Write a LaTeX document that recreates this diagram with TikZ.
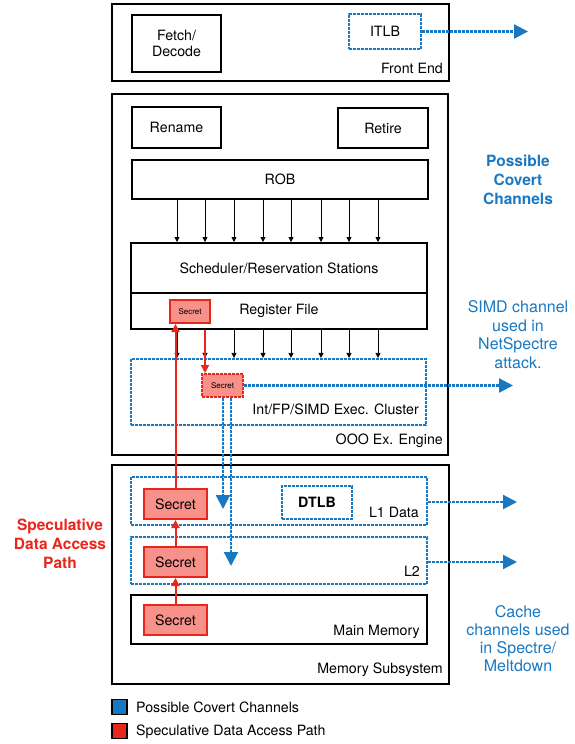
\documentclass[tikz,border=0pt]{standalone}
\usepackage{fontspec}
\setmainfont{TeX Gyre Heros}
\usetikzlibrary{arrows.meta}
\definecolor{cblue}{RGB}{24,120,194}
\definecolor{cred}{RGB}{232,38,28}
\definecolor{cpink}{RGB}{247,145,138}
\begin{document}
\begin{tikzpicture}[x=1pt,y=-1pt,
  every node/.style={inner sep=0pt, font=\fontsize{14.2}{16.5}\selectfont},
  sz/.style n args={2}{minimum width=#1pt,minimum height=#2pt},
  bx/.style={draw,line width=2pt},
  blu/.style={draw=cblue,line width=2.2pt,dash pattern=on 3pt off 1pt},
  sec/.style={draw=cred,fill=cpink,line width=2pt},
  secd/.style={draw=cred,fill=cpink,line width=2pt,dash pattern=on 3pt off 1pt},
  barrow/.style={draw=cblue,line width=2.2pt,dash pattern=on 3pt off 1pt,-{Triangle[length=14pt,width=14pt]}},
  karrow/.style={line width=0.8pt,-{Triangle[length=5pt,width=5pt]}},
  rarrow/.style={draw=cred,line width=2pt,-{Triangle[length=8pt,width=8pt]}},
  bignote/.style={font=\fontsize{16}{18.5}\selectfont,align=center,text=cblue}
]
\useasboundingbox (0,0) rectangle (575,744);

% Front end
\node[bx,sz={337}{77}] (fe) at (280.5,42.5) {};
\node[bx,sz={89}{57},align=center] (fd) at (176.5,43.5) {Fetch/\\Decode};
\node[blu,sz={72}{35}] (itlb) at (385,31.5) {ITLB};
\node[anchor=east] (felbl) at (443,68) {Front End};
\coordinate (itlbend) at (528,31.5);
\draw[barrow] (itlb.east) -- (itlbend);

% OOO engine
\node[bx,sz={336}{361}] (ooo) at (280,274.5) {};
\node[bx,sz={89}{41}] (ren) at (176.5,127.5) {Rename};
\node[bx,sz={90}{40}] (ret) at (383,128) {Retire};
\node[bx,sz={296}{39}] (rob) at (280,179.5) {ROB};
\node[bx,sz={296}{50}] (sch) at (279,268) {Scheduler/Reservation Stations};
\node[bx,sz={296}{36}] (rf) at (279,311) {Register File};
\node[sec,sz={40}{23},font=\fontsize{8}{9}\selectfont] (rfs) at (190,311.5) {Secret};
\node[blu,sz={295}{66}] (exe) at (278.5,392) {};
\node[anchor=east] (exelbl) at (419,409) {Int/FP/SIMD Exec. Cluster};
\node[anchor=east] (ooolbl) at (443,441) {OOO Ex. Engine};

\foreach \x in {177,205,234,263,291,321,349,378}{
  \draw[karrow] (rob.south -| \x,0) -- (sch.north -| \x,0);
  \draw[karrow] (rf.south -| \x,0) -- (exe.north -| \x,0);
}

\node[secd,sz={41}{23},font=\fontsize{8}{9}\selectfont] (exs) at (222.5,385.5) {Secret};
\coordinate (simdend) at (513,385.5);
\draw[barrow] (exs.east) -- (simdend);

% Memory subsystem
\node[bx,sz={337}{219}] (mem) at (280.5,574.5) {};
\node[blu,sz={296}{48}] (l1) at (279,501) {};
\node[blu,sz={70}{33}] (dtlb) at (317,502.5) {\textbf{DTLB}};
\node[anchor=east] (l1lbl) at (419,512) {L1 Data};
\node[blu,sz={296}{47}] (l2) at (279,560.5) {};
\node[anchor=east] (l2lbl) at (420,571) {L2};
\node[bx,sz={296}{49}] (mm) at (279,619.5) {};
\node[anchor=east] (mmlbl) at (420,632) {Main Memory};
\node[anchor=east] (memlbl) at (443,670) {Memory Subsystem};
\node[sec,sz={63}{30}] (l1s) at (175.5,504) {Secret};
\node[sec,sz={63}{30}] (l2s) at (175.5,562) {Secret};
\node[sec,sz={63}{30}] (mms) at (175.5,620) {Secret};

\coordinate (l1end) at (517,502);
\coordinate (l2end) at (517,562);
\draw[barrow] (l1.east |- l1end) -- (l1end);
\draw[barrow] (l2.east |- l2end) -- (l2end);

% blue drops from exec secret
\coordinate (drop1) at (223,509);
\coordinate (drop2) at (231,566);
\draw[barrow] (exs.south -| drop1) -- (drop1);
\draw[barrow] (exs.south -| drop2) -- (drop2);

% red speculative path
\draw[rarrow] (mms.north) -- (l2s.south);
\draw[rarrow] (l2s.north) -- (l1s.south);
\draw[rarrow] (l1s.north) -- (rfs.south -| l1s.north);
\draw[rarrow] (rf.south -| 205,0) -- (exs.north -| 205,0);

% annotations
\node[bignote,font=\fontsize{15.5}{19}\bfseries] (pcc) at (518,179.5) {Possible\\Covert\\Channels};
\node[bignote] (simd) at (518,334.5) {SIMD channel\\used in\\NetSpectre\\attack.};
\node[bignote,font=\fontsize{16}{17.8}\selectfont] (cache) at (518,638.5) {Cache\\channels used\\in Spectre/\\Meltdown};
\node[bignote,text=cred,font=\fontsize{15.5}{19}\bfseries] (spec) at (60,544) {Speculative\\Data Access\\Path};

% legend
\node[draw,line width=1.5pt,fill=cblue,sz={15}{15}] (lgb) at (119.5,707) {};
\node[anchor=west] (lgbt) at (136,707) {Possible Covert Channels};
\node[draw,line width=1.5pt,fill=cred,sz={15}{15}] (lgr) at (119.5,731) {};
\node[anchor=west] (lgrt) at (136,732) {Speculative Data Access Path};
\end{tikzpicture}
\end{document}
